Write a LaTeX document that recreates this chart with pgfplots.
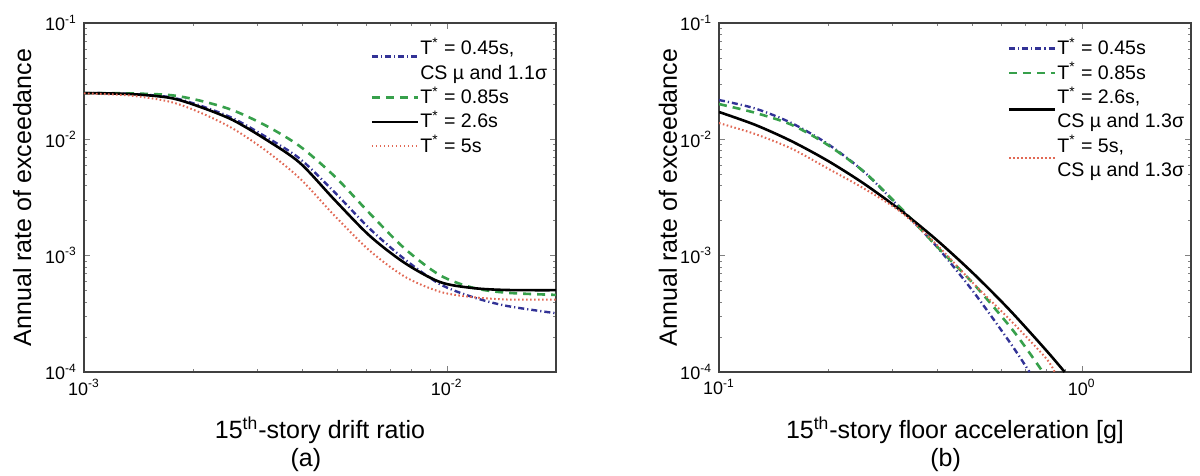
\documentclass[border=0pt]{standalone}
\usepackage{pgfplots}
\pgfplotsset{compat=1.18}
\usepackage{fontspec}
\setmainfont{Liberation Sans}

\definecolor{csblue}{RGB}{50,50,150}
\definecolor{csgreen}{RGB}{55,160,75}
\definecolor{csred}{RGB}{225,105,85}

% Hazard curves, panel (a): 15th-story drift ratio
\pgfplotstableread{
x        y
0.001    0.0250
0.00134  0.0245
0.00173  0.0227
0.00209  0.0190
0.00257  0.01466
0.00319  0.00986
0.00394  0.00626
0.00491  0.00301
0.00614  0.001476
0.00766  0.000865
0.00957  0.000594
0.0118   0.000527
0.01463  0.000507
0.02     0.000505
}\driftB
\pgfplotstableread{
x        y
0.001    0.0250
0.00134  0.0248
0.00173  0.0240
0.00209  0.0215
0.00257  0.0178
0.00319  0.0130
0.00394  0.0087
0.00491  0.0048
0.00614  0.0023
0.00766  0.00115
0.00957  0.00068
0.0118   0.00053
0.01463  0.00048
0.02     0.00046
}\driftG
\pgfplotstableread{
x        y
0.001    0.0250
0.00134  0.0246
0.00173  0.0230
0.00209  0.0195
0.00257  0.0152
0.00319  0.0104
0.00394  0.0068
0.00491  0.0035
0.00614  0.0017
0.00766  0.00093
0.00957  0.00057
0.0118   0.00044
0.01463  0.00037
0.02     0.00032
}\driftA
\pgfplotstableread{
x        y
0.001    0.0248
0.00134  0.0238
0.00173  0.0210
0.00209  0.0170
0.00257  0.0124
0.00319  0.0079
0.00394  0.0046
0.00491  0.0022
0.00614  0.00110
0.00766  0.00066
0.00957  0.00049
0.0118   0.00044
0.01463  0.00042
0.02     0.00042
}\driftR

% Hazard curves, panel (b): 15th-story floor acceleration
\pgfplotstableread{
x       y
0.1     0.01718
0.1259  0.01331
0.1585  0.00964
0.1995  0.00654
0.2512  0.00415
0.3162  0.00246
0.3981  0.001365
0.5012  0.000708
0.631   0.000344
0.7943  0.000156
0.897   0.0001
}\accB
\pgfplotstableread{
x       y
0.1     0.02178
0.1259  0.0184
0.1585  0.0138
0.1995  0.00912
0.2512  0.00525
0.3162  0.00255
0.3981  0.0012
0.5012  0.000495
0.631   0.000183
0.7178  0.0001
}\accA
\pgfplotstableread{
x       y
0.1     0.0201
0.1259  0.0169
0.1585  0.01334
0.1995  0.00895
0.2512  0.00525
0.3162  0.00259
0.3981  0.001205
0.5012  0.00058
0.631   0.00025
0.7079  0.000155
0.781   0.0001
}\accG
\pgfplotstableread{
x       y
0.1     0.0138
0.1259  0.0111
0.1585  0.00832
0.1995  0.00562
0.2512  0.00377
0.3162  0.00239
0.3981  0.001245
0.5012  0.000582
0.631   0.000285
0.7943  0.000133
0.8418  0.0001
}\accR

% line styles of the four conditioning periods
\tikzset{
  caseA/.style={csblue, line width=1.2pt, dash pattern=on 3pt off 1.5pt on 0.6pt off 1.5pt},
  caseG/.style={csgreen, line width=1.3pt, dash pattern=on 4pt off 3pt},
  caseB/.style={black, line width=1.3pt},
  caseR/.style={csred, line width=1pt, dash pattern=on 0.8pt off 1.2pt},
  % vertical offset of a legend sample (lowered beside two-line entries)
  legoff/.code={\def\legoff{#1}},
}
\def\legoff{0.5pt}

\begin{document}
\begin{tikzpicture}
\path[use as bounding box] (0pt,0pt) rectangle (600pt,238pt);

\begin{axis}[
  scale only axis, width=236pt, height=174.5pt,
  anchor=south west, at={(42pt,52pt)},
  xmode=log, ymode=log,
  xmin=1e-3, xmax=2e-2, ymin=1e-4, ymax=1e-1,
  xtick={1e-3,1e-2},
  xticklabels={10\textsuperscript{-3},10\textsuperscript{-2}},
  minor xtick={2e-3,3e-3,4e-3,5e-3,6e-3,7e-3,8e-3,9e-3,2e-2},
  ytick={1e-4,1e-3,1e-2,1e-1},
  yticklabels={10\textsuperscript{-4},10\textsuperscript{-3},10\textsuperscript{-2},10\textsuperscript{-1}},
  minor ytick={2e-4,3e-4,4e-4,5e-4,6e-4,7e-4,8e-4,9e-4,
               2e-3,3e-3,4e-3,5e-3,6e-3,7e-3,8e-3,9e-3,
               2e-2,3e-2,4e-2,5e-2,6e-2,7e-2,8e-2,9e-2},
  tick align=inside,
  major tick length=3pt, minor tick length=1.5pt,
  axis line style={black!75, line width=0.6pt},
  tick label style={font=\fontsize{9}{10}\selectfont},
  label style={font=\fontsize{12.5}{14}\selectfont},
  xlabel={15\textsuperscript{th}-story drift ratio},
  ylabel={Annual rate of exceedance},
  xlabel style={at={(axis description cs:0.5,-0.166)}, anchor=center},
  ylabel style={at={(axis description cs:-0.131,0.5)}, anchor=center},
  legend cell align=left,
  legend style={draw=none, fill=none, inner sep=0pt, row sep=0pt,
    font=\fontsize{9.8}{11.8}\selectfont,
    at={(1,1)}, anchor=north east, xshift=-3pt, yshift=-7pt,
    nodes={inner xsep=1.2pt, inner ysep=1pt, text height=7.6pt, text depth=2.6pt}},
  legend image code/.code={\draw[#1,overlay] (0pt,\legoff) -- (23pt,\legoff);
                           \path[draw=none] (0pt,0pt) -- (23pt,0pt);},
  extra description/.code={
    \node[font=\fontsize{12.5}{14}\selectfont] at (0.47,-0.252) {(a)};},
]
\addplot[caseA, smooth, legoff=-3.5pt] table[x=x,y=y] {\driftA};
\addlegendentry{T\textsuperscript{*} = 0.45s,}
\addlegendimage{empty legend}
\addlegendentry{CS µ and 1.1σ}
\addplot[caseG, smooth] table[x=x,y=y] {\driftG};
\addlegendentry{T\textsuperscript{*} = 0.85s}
\addplot[caseB, smooth] table[x=x,y=y] {\driftB};
\addlegendentry{T\textsuperscript{*} = 2.6s}
\addplot[caseR, smooth] table[x=x,y=y] {\driftR};
\addlegendentry{T\textsuperscript{*} = 5s}
\end{axis}

\begin{axis}[
  scale only axis, width=236pt, height=174.5pt,
  anchor=south west, at={(359.5pt,52pt)},
  xmode=log, ymode=log,
  xmin=0.1, xmax=2, ymin=1e-4, ymax=1e-1,
  xtick={0.1,1},
  xticklabels={10\textsuperscript{-1},10\textsuperscript{0}},
  minor xtick={0.2,0.3,0.4,0.5,0.6,0.7,0.8,0.9,2},
  ytick={1e-4,1e-3,1e-2,1e-1},
  yticklabels={10\textsuperscript{-4},10\textsuperscript{-3},10\textsuperscript{-2},10\textsuperscript{-1}},
  minor ytick={2e-4,3e-4,4e-4,5e-4,6e-4,7e-4,8e-4,9e-4,
               2e-3,3e-3,4e-3,5e-3,6e-3,7e-3,8e-3,9e-3,
               2e-2,3e-2,4e-2,5e-2,6e-2,7e-2,8e-2,9e-2},
  tick align=inside,
  major tick length=3pt, minor tick length=1.5pt,
  axis line style={black!75, line width=0.6pt},
  tick label style={font=\fontsize{9}{10}\selectfont},
  label style={font=\fontsize{12.5}{14}\selectfont},
  xlabel={15\textsuperscript{th}-story floor acceleration [g]},
  ylabel={Annual rate of exceedance},
  xlabel style={at={(axis description cs:0.5,-0.166)}, anchor=center},
  ylabel style={at={(axis description cs:-0.108,0.5)}, anchor=center},
  legend cell align=left,
  legend style={draw=none, fill=none, inner sep=0pt, row sep=0pt,
    font=\fontsize{9.8}{11.8}\selectfont,
    at={(1,1)}, anchor=north east, xshift=-2pt, yshift=-7pt,
    nodes={inner xsep=1.2pt, inner ysep=1pt, text height=7.6pt, text depth=2.6pt}},
  legend image code/.code={\draw[#1,overlay] (0pt,\legoff) -- (23pt,\legoff);
                           \path[draw=none] (0pt,0pt) -- (23pt,0pt);},
  extra description/.code={
    \node[font=\fontsize{12.5}{14}\selectfont] at (0.48,-0.252) {(b)};},
]
\addplot[caseA, smooth] table[x=x,y=y] {\accA};
\addlegendentry{T\textsuperscript{*} = 0.45s}
\addplot[caseG, smooth] table[x=x,y=y] {\accG};
\addlegendentry{T\textsuperscript{*} = 0.85s}
\addplot[caseB, smooth, legoff=-5.5pt] table[x=x,y=y] {\accB};
\addlegendentry{T\textsuperscript{*} = 2.6s,}
\addlegendimage{empty legend}
\addlegendentry{CS µ and 1.3σ}
\addplot[caseR, smooth, legoff=-5.5pt] table[x=x,y=y] {\accR};
\addlegendentry{T\textsuperscript{*} = 5s,}
\addlegendimage{empty legend}
\addlegendentry{CS µ and 1.3σ}
\end{axis}
\end{tikzpicture}
\end{document}
